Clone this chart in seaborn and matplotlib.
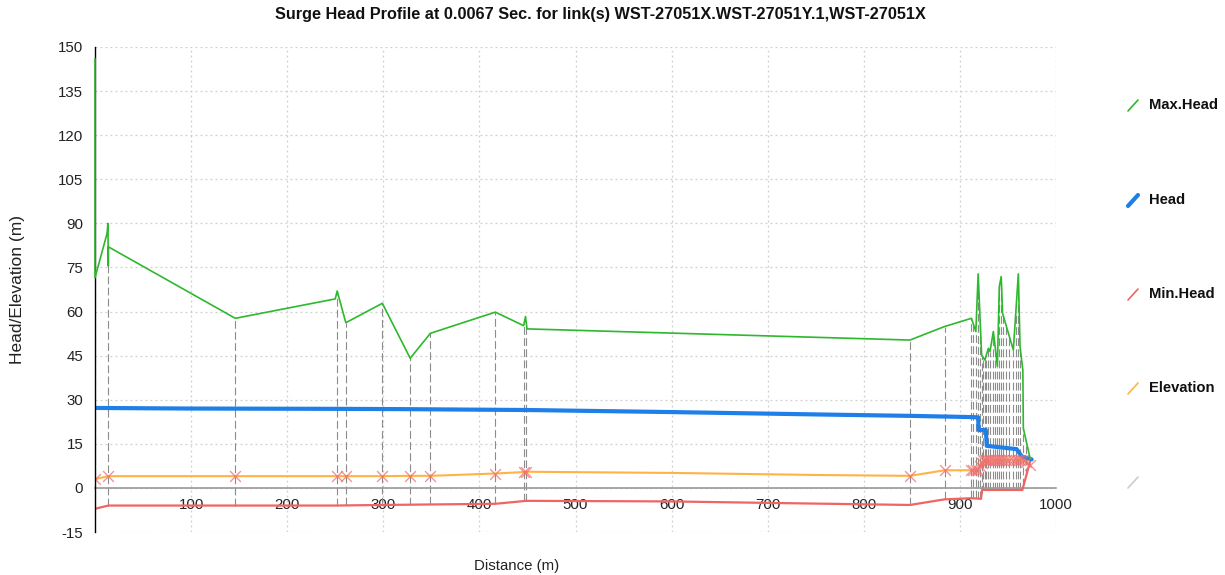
import numpy as np
import pandas as pd
import matplotlib
matplotlib.use("Agg")
import matplotlib.pyplot as plt
from matplotlib.lines import Line2D
import seaborn as sns

# ---------------- data ----------------
title = "Surge Head Profile at 0.0067 Sec. for link(s) WST-27051X.WST-27051Y.1,WST-27051X"
xlabel = "Distance (m)"
ylabel = "Head/Elevation (m)"

max_x = [0, 0, 12.5, 13.5, 13.8, 14, 146, 250, 252, 261, 299, 328, 349, 416.6, 446, 448,
         449.5, 848, 884, 912, 916.6, 919, 922.6, 926, 929.6, 931.3, 934.8, 936.5, 939,
         941, 943, 944.4, 955.6, 960.8, 962.6, 965.5, 966, 973]
max_y = [146, 71.5, 86.5, 90, 75.5, 82, 57.7, 64.3, 67, 56.2, 62.8, 44.1, 52.6, 59.8, 55.2, 58.3,
         54.1, 50.3, 54.9, 57.7, 53.2, 72.8, 45.2, 43.5, 47.5, 46.4, 53.2, 48.6, 41.3,
         68.5, 71.9, 59.4, 46.9, 72.8, 48.0, 40.1, 20.3, 10.1]

head_x = [0, 100, 250, 320, 450, 600, 750, 850, 912, 919, 919.5, 927, 928, 959, 964.3, 974.6]
head_y = [27.2, 27.0, 26.9, 26.8, 26.5, 25.8, 25.0, 24.5, 24.1, 24.0, 19.7, 19.7, 14.3, 13.2, 10.7, 9.7]

min_x = [0, 14, 250, 300, 416.6, 449, 600, 700, 848, 884, 912, 922, 923, 965, 973]
min_y = [-7.1, -6.0, -6.0, -5.8, -5.4, -4.4, -4.6, -5.1, -5.8, -3.9, -3.5, -3.7, -0.7, -0.7, 8.9]

elev_x = [0, 14, 146, 252, 261, 299, 328, 349, 416.6, 446, 449, 600, 750, 848, 884, 912, 919, 924, 965, 973]
elev_y = [3.0, 4.0, 4.0, 4.0, 4.0, 4.0, 4.1, 4.1, 4.9, 5.4, 5.5, 5.1, 4.4, 4.1, 6.0, 6.0, 6.1, 9.5, 9.6, 7.8]

node_x = [0, 14, 146, 252, 261, 299, 328, 349, 416.6, 446, 449, 848, 884, 911.5, 914, 916.5, 919,
          921, 922.6, 924, 926, 927.5, 929.6, 931.3, 934.8, 936.5, 939, 941, 943, 944.4, 948,
          951, 955.6, 958, 960.8, 962.6, 966, 969, 973]

legend_labels = ["Max.Head", "Head", "Min.Head", "Elevation", ""]
legend_colors = ["#2eb82e", "#1f7fe8", "#f06464", "#ffb347", "#cccccc"]
legend_widths = [1.2, 3.0, 1.2, 1.2, 1.2]

xticks = [100, 200, 300, 400, 500, 600, 700, 800, 900, 1000]
yticks = [-15, 0, 15, 30, 45, 60, 75, 90, 105, 120, 135, 150]

# ---------------- plotting ----------------
sns.set_style("white")
plt.rcParams['font.family'] = ['Liberation Sans', 'DejaVu Sans']
plt.rcParams['axes.unicode_minus'] = False

W, H = 1225, 575
fig = plt.figure(figsize=(W / 100, H / 100), dpi=100)
ax = fig.add_axes([95 / W, 1 - 532 / H, (1056 - 95) / W, (532 - 47) / H])

df_max = pd.DataFrame({"x": max_x, "y": max_y})
df_head = pd.DataFrame({"x": head_x, "y": head_y})
df_min = pd.DataFrame({"x": min_x, "y": min_y})
df_elev = pd.DataFrame({"x": elev_x, "y": elev_y})

# node vertical dashed lines (min head -> max head at each node)
nx = np.array(node_x)
top = np.interp(nx, max_x, max_y)
bot = np.interp(nx, min_x, min_y)
ax.vlines(nx, bot, top, colors="#8c8c8c", linestyles=(0, (7, 3)), linewidth=0.8, zorder=2)

sns.lineplot(data=df_elev, x="x", y="y", sort=False, estimator=None, ax=ax,
             color=legend_colors[3], linewidth=1.5, zorder=3)
sns.lineplot(data=df_min, x="x", y="y", sort=False, estimator=None, ax=ax,
             color=legend_colors[2], linewidth=1.6, zorder=3)
sns.lineplot(data=df_head, x="x", y="y", sort=False, estimator=None, ax=ax,
             color=legend_colors[1], linewidth=3.0, zorder=4)
sns.lineplot(data=df_max, x="x", y="y", sort=False, estimator=None, ax=ax,
             color=legend_colors[0], linewidth=1.2, zorder=6)
ax.lines[-1].set_clip_on(False)

df_mark = pd.DataFrame({"x": nx, "y": np.interp(nx, elev_x, elev_y)})
sns.scatterplot(data=df_mark, x="x", y="y", ax=ax, marker="x", s=60,
                color="#f07070", linewidth=1.0, alpha=0.75, zorder=5)

ax.set_xlim(0, 1000)
ax.set_ylim(-15, 150)
ax.set_xticks(xticks)
ax.set_yticks(yticks)
ax.set_xlabel("")
ax.set_ylabel("")

ax.grid(True, color="#cfcfcf", linestyle=(0, (1.5, 2.5)), linewidth=0.9)
ax.set_axisbelow(True)

for s in ("top", "right"):
    ax.spines[s].set_visible(False)
ax.spines["bottom"].set_position(("data", 0))
ax.spines["bottom"].set_color("#9a9a9a")
ax.spines["bottom"].set_linewidth(1.2)
ax.spines["left"].set_color("black")
ax.spines["left"].set_linewidth(1.0)
ax.spines["left"].set_zorder(5)

ax.tick_params(axis="x", direction="in", length=9, width=1.0, color="black",
               pad=7, labelsize=10.8, labelcolor="#222222")
ax.tick_params(axis="y", direction="inout", length=13, width=1.3, color="#8a8a8a",
               pad=2, labelsize=10.8, labelcolor="#222222")

fig.text(600 / W, 1 - 14 / H, title, ha="center", va="center",
         fontsize=11.7, fontweight="bold", color="#111111")
fig.text(18 / W, 1 - 290 / H, ylabel, rotation=90, ha="center", va="center",
         fontsize=12.5, color="#222222")
fig.text(517 / W, 1 - 566 / H, xlabel, ha="center", va="center",
         fontsize=10.8, color="#222222")

# legend at right
ys = [105, 200, 294, 388, 482]
for lab, col, lw, yy in zip(legend_labels, legend_colors, legend_widths, ys):
    fig.add_artist(Line2D([1128 / W, 1138 / W], [1 - (yy + 6) / H, 1 - (yy - 5) / H],
                          transform=fig.transFigure, color=col, linewidth=lw,
                          solid_capstyle="round"))
    if lab:
        fig.text(1149 / W, 1 - yy / H, lab, ha="left", va="center",
                 fontsize=10.6, fontweight="bold", color="#111111")

fig.savefig("out.png", dpi=100)
